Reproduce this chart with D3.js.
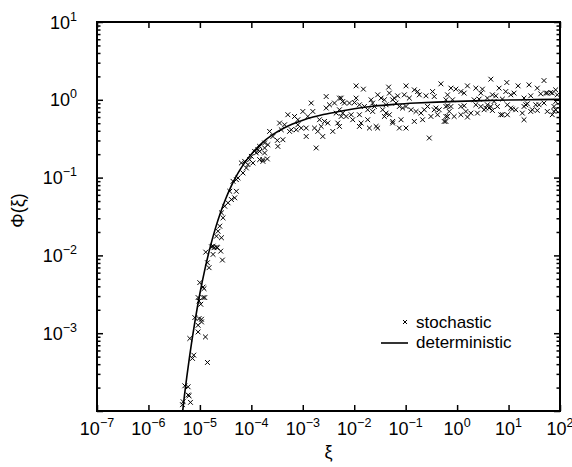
<!DOCTYPE html>
<html><head><meta charset="utf-8">
<script src="https://cdn.jsdelivr.net/npm/d3@7"></script>
<style>
body{margin:0;background:#fff}
svg{display:block}
text{font-family:"Liberation Sans",Arial,Helvetica,sans-serif;fill:#000}
</style>
</head><body>
<svg id="chart" width="572" height="467"></svg>
<script>
// ---- data (decade exponents) ----
const xTickExps = [-7, -6, -5, -4, -3, -2, -1, 0, 1, 2];
const yTickExps = [-3, -2, -1, 0, 1];
const xLabel = "ξ";
const yLabel = "Φ(ξ)";
const legendLabels = ["stochastic", "deterministic"];

// stochastic points: [log10 ξ, log10 Φ]
const stochastic = [
[-5.338,-3.919],[-5.326,-3.881],[-5.210,-3.804],[-5.183,-3.889],[-5.229,-3.795],[-5.293,-3.676],[-5.229,-3.689],[-4.853,-3.376],[-5.119,-3.282],[-5.144,-3.324],
[-5.196,-3.068],[-4.892,-3.048],[-5.035,-2.984],[-5.035,-2.898],[-4.969,-2.855],[-4.969,-2.821],[-5.099,-2.799],[-5.016,-2.812],[-4.983,-2.628],[-5.016,-2.586],
[-5.035,-2.542],[-4.905,-2.542],[-4.938,-2.542],[-4.919,-2.427],[-4.938,-2.407],[-5.002,-2.350],[-4.822,-2.158],[-4.853,-2.094],[-4.886,-1.958],[-4.744,-1.987],
[-4.775,-1.889],[-4.725,-1.901],[-4.659,-1.901],[-4.595,-1.945],[-4.562,-2.060],
[-4.744,-1.881],[-4.678,-1.894],[-4.678,-1.753],[-4.647,-1.689],[-4.581,-1.773],[-4.614,-1.624],[-4.550,-1.517],[-4.581,-1.453],[-4.517,-1.368],[-4.453,-1.324],
[-4.387,-1.282],[-4.323,-1.260],[-4.291,-1.176],[-4.420,-1.176],[-4.356,-1.048],[-4.291,-1.026],[-4.259,-1.004],[-4.163,-0.940],[-4.097,-0.876],[-4.066,-0.833],
[-4.130,-0.791],[-4.033,-0.769],[-3.969,-0.812],[-4.000,-0.727],[-3.903,-0.683],[-3.839,-0.663],[-3.775,-0.791],[-3.839,-0.599],[-3.742,-0.555],[-4.194,-0.812],
[-3.839,-0.769],[-3.775,-0.769],[-3.689,-0.760],[-3.872,-0.641],[-3.742,-0.619],[-3.678,-0.577],[-3.645,-0.406],[-3.581,-0.471],[-3.484,-0.599],[-3.495,-0.522],
[-3.387,-0.513],[-3.418,-0.385],[-3.451,-0.299],[-3.354,-0.321],[-3.290,-0.192],[-3.257,-0.406],[-3.224,-0.385],[-3.160,-0.214],[-3.096,-0.256],[-3.096,-0.321],
[-3.127,-0.385],[-3.030,-0.363],[-2.999,-0.150],[-2.933,-0.363],[-2.933,-0.471],[-2.902,-0.214],[-2.836,-0.042],[-2.805,-0.150],[-2.772,-0.363],[-2.739,-0.619],
[-2.708,-0.406],[-2.642,-0.342],[-2.611,-0.471],[-2.578,-0.278],[-2.545,-0.106],[-2.545,0.042],[-2.481,-0.064],[-2.417,-0.406],[-2.384,-0.042],[-2.351,-0.171],
[-2.320,-0.299],[-2.287,0.022],[-2.254,-0.214],[-2.223,-0.022],[-2.514,-0.299],[-2.675,-0.256],[-3.742,-0.683],[-3.936,-0.663],
[-1.963,0.179],[-1.822,0.137],[-1.331,0.163],[-0.993,0.179],[-0.315,0.205],[-0.832,0.128],[-0.768,0.106],[-0.477,0.106],[-1.317,0.086],[-1.544,0.064],
[-1.156,0.051],[-1.026,0.064],[-0.929,0.022],[-0.735,0.064],[-0.605,0.051],[-0.444,0.042],[-1.963,0.022],[-2.254,0.022],[-2.190,-0.042],[-2.093,-0.042],
[-1.996,-0.035],[-1.899,-0.064],[-1.672,0.000],[-1.641,-0.042],[-1.478,0.022],[-1.414,0.000],[-1.253,0.000],[-1.187,-0.042],[-1.802,-0.086],[-1.738,-0.128],
[-1.641,-0.150],[-1.608,-0.086],[-1.447,-0.128],[-1.381,-0.171],[-1.317,-0.192],[-1.123,-0.086],[-1.059,-0.106],[-0.993,-0.086],[-0.896,-0.128],[-0.799,-0.150],
[-0.702,-0.171],[-0.638,-0.128],[-0.574,-0.086],[-0.412,-0.106],[-0.348,-0.128],[-0.218,-0.086],[-2.287,-0.128],[-2.223,-0.171],[-2.157,-0.214],[-2.060,-0.192],
[-2.029,-0.256],[-1.899,-0.192],[-1.866,-0.299],[-1.899,-0.342],[-1.738,-0.256],[-1.705,-0.363],[-1.575,-0.342],[-1.544,-0.363],[-1.414,-0.214],[-1.253,-0.299],
[-1.123,-0.363],[-1.090,-0.256],[-0.832,-0.278],[-0.671,-0.256],[-0.509,-0.214],[-0.218,-0.278],[-0.541,-0.491],[-2.287,-0.342],
[0.655,0.265],[0.966,0.222],[1.398,0.192],[1.559,0.150],[1.689,0.247],[1.916,0.128],[-0.121,0.150],[-0.024,0.137],[0.073,0.106],[0.201,0.179],
[0.364,0.150],[0.492,0.137],[0.816,0.150],[1.185,0.179],[-0.186,0.064],[0.137,0.086],[0.461,0.086],[0.686,0.064],[0.752,0.051],[0.946,0.106],
[1.043,0.064],[1.107,0.086],[1.301,0.022],[1.431,0.051],[1.625,0.077],[1.722,0.086],[1.819,0.094],[-0.218,0.000],[-0.089,0.000],[0.331,0.000],
[0.428,0.009],[0.589,0.022],[0.719,-0.022],[0.880,0.009],[-0.186,-0.077],[-0.121,-0.086],[0.073,-0.086],[0.137,-0.077],[0.364,-0.064],[0.461,-0.086],
[0.558,-0.106],[0.655,-0.086],[0.783,-0.086],[0.977,-0.064],[1.074,-0.119],[1.140,-0.128],[1.301,-0.086],[1.365,-0.051],[1.462,-0.128],[1.592,-0.064],
[1.689,-0.042],[1.883,-0.086],[1.916,-0.128],[0.267,-0.171],[0.395,-0.171],[0.525,-0.128],[0.686,-0.137],[0.880,-0.192],[0.977,-0.192],[1.268,-0.171],
[1.559,-0.137],[1.753,-0.150],[1.850,-0.192],[-0.186,-0.214],[-0.057,-0.214],[0.073,-0.192],[0.201,-0.222],[-0.251,-0.278],[1.301,-0.256],[0.589,-0.064],
[1.916,-0.022],[1.947,0.064],
[-1.381,-0.064],[-1.220,0.022],[-0.444,-0.128],[-0.380,-0.192],[-0.218,-0.214],[-0.153,-0.150],[0.170,-0.150],[0.622,-0.106],[0.849,-0.192],[1.043,-0.106],
[1.334,-0.064],[1.431,-0.150],[1.528,-0.064],[1.753,0.086],[1.850,0.086],[1.883,-0.150],[-0.993,-0.363],[-1.253,-0.278]
];

// deterministic curve: [log10 ξ, log10 Φ]
const deterministic = [
[-5.4,-4.385],[-5.3,-3.800],[-5.2,-3.297],[-5.1,-2.865],[-5.0,-2.490],[-4.9,-2.170],[-4.8,-1.894],[-4.7,-1.656],
[-4.6,-1.451],[-4.5,-1.275],[-4.4,-1.122],[-4.3,-0.991],[-4.2,-0.879],[-4.1,-0.782],[-4.0,-0.699],[-3.8,-0.560],
[-3.6,-0.455],[-3.4,-0.375],[-3.2,-0.312],[-3.0,-0.262],[-2.8,-0.222],[-2.6,-0.190],[-2.3,-0.150],[-2.0,-0.115],
[-1.6,-0.080],[-1.2,-0.058],[-0.8,-0.042],[-0.4,-0.030],[0,-0.020],[0.5,-0.010],[1,-0.003],[1.5,0.002],[2,0.006]
];

// ---- layout ----
const L = 97, R = 560, T = 22, B = 411;
const svg = d3.select("#chart");
const x = d3.scaleLog().domain([1e-7, 1e2]).range([L, R]);
const y = d3.scaleLog().domain([1e-4, 1e1]).range([B, T]);
const P = v => Math.pow(10, v);

const xMajor = xTickExps.map(P);
const yMajorAll = d3.range(-4, 2).map(P);
const yMinor = [];
for (let e = -4; e < 1; e++) for (let m = 2; m <= 9; m++) yMinor.push(m * P(e));

// clip
svg.append("clipPath").attr("id", "clip").append("rect")
  .attr("x", L).attr("y", T).attr("width", R - L).attr("height", B - T);

const plot = svg.append("g").attr("clip-path", "url(#clip)");

// stochastic markers (x)
const s = 2.4;
plot.append("g").selectAll("path").data(stochastic).join("path")
  .attr("d", d => {
    const cx = x(P(d[0])), cy = y(P(d[1]));
    return `M${cx - s},${cy - s}L${cx + s},${cy + s}M${cx - s},${cy + s}L${cx + s},${cy - s}`;
  })
  .attr("stroke", "#000").attr("stroke-width", 1).attr("fill", "none");

// deterministic curve
plot.append("path").datum(deterministic)
  .attr("d", d3.line().x(d => x(P(d[0]))).y(d => y(P(d[1]))).curve(d3.curveMonotoneX))
  .attr("fill", "none").attr("stroke", "#000").attr("stroke-width", 1.6);

// axes with inward ticks
function styleAxis(g) {
  g.select(".domain").remove();
  g.selectAll(".tick line").attr("stroke", "#000").attr("stroke-width", 1.5);
}
svg.append("g").attr("transform", `translate(0,${B})`)
  .call(d3.axisBottom(x).tickValues(xMajor).tickSize(-6).tickFormat(""))
  .call(styleAxis);
svg.append("g").attr("transform", `translate(0,${T})`)
  .call(d3.axisTop(x).tickValues(xMajor).tickSize(-6).tickFormat(""))
  .call(styleAxis);
svg.append("g").attr("transform", `translate(${L},0)`)
  .call(d3.axisLeft(y).tickValues(yMajorAll).tickSize(-6).tickFormat(""))
  .call(styleAxis);
svg.append("g").attr("transform", `translate(${L},0)`)
  .call(d3.axisLeft(y).tickValues(yMinor).tickSize(-3.5).tickFormat(""))
  .call(styleAxis);
svg.append("g").attr("transform", `translate(${R},0)`)
  .call(d3.axisRight(y).tickValues(yMajorAll).tickSize(-6).tickFormat(""))
  .call(styleAxis);
svg.append("g").attr("transform", `translate(${R},0)`)
  .call(d3.axisRight(y).tickValues(yMinor).tickSize(-3.5).tickFormat(""))
  .call(styleAxis);

// frame
svg.append("rect").attr("x", L).attr("y", T).attr("width", R - L).attr("height", B - T)
  .attr("fill", "none").attr("stroke", "#000").attr("stroke-width", 2);

const expStr = e => (e < 0 ? "\u2212" + (-e) : String(e));

// x tick labels
const xl = svg.append("g").selectAll("text").data(xTickExps).join("text")
  .attr("x", e => x(P(e))).attr("y", 435).attr("text-anchor", "middle").attr("font-size", 18);
xl.append("tspan").text("10");
xl.append("tspan").attr("font-size", 12.5).attr("dy", -8).text(e => expStr(e));

// y tick labels
const yl = svg.append("g").selectAll("text").data(yTickExps).join("text")
  .attr("x", 77).attr("y", e => y(P(e)) + 6.5).attr("text-anchor", "end").attr("font-size", 18);
yl.append("tspan").text("10");
yl.append("tspan").attr("font-size", 12.5).attr("dy", -8).text(e => expStr(e));

// axis titles
svg.append("text").attr("x", (L + R) / 2).attr("y", 458).attr("text-anchor", "middle")
  .attr("font-size", 18).text(xLabel);
svg.append("text").attr("transform", `translate(24,${(T + B) / 2 - 6}) rotate(-90)`)
  .attr("text-anchor", "middle").attr("font-size", 18).text(yLabel);

// legend
const lg = svg.append("g");
const mx = 405, my = 322, ms = 2;
lg.append("path").attr("d", `M${mx - ms},${my - ms}L${mx + ms},${my + ms}M${mx - ms},${my + ms}L${mx + ms},${my - ms}`)
  .attr("stroke", "#000").attr("stroke-width", 1);
lg.append("text").attr("x", 416).attr("y", 328).attr("font-size", 17).text(legendLabels[0]);
lg.append("line").attr("x1", 381).attr("x2", 408).attr("y1", 343).attr("y2", 343)
  .attr("stroke", "#000").attr("stroke-width", 1.6);
lg.append("text").attr("x", 416).attr("y", 348).attr("font-size", 17).text(legendLabels[1]);
</script>
</body></html>
